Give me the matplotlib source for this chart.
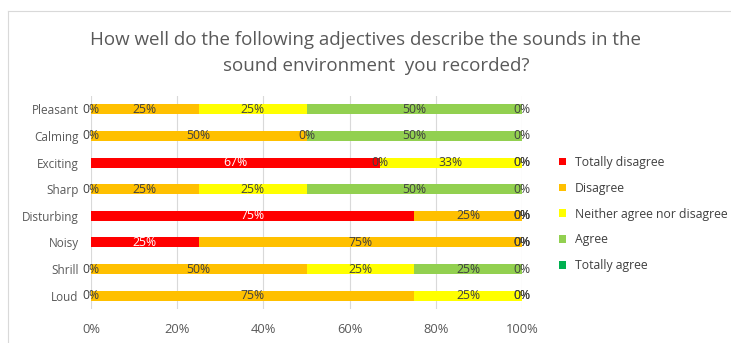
import matplotlib
matplotlib.use("Agg")
import matplotlib.pyplot as plt
from matplotlib.lines import Line2D
import numpy as np

plt.rcParams['font.family'] = ['Open Sans', 'DejaVu Sans']

categories = ["Pleasant", "Calming", "Exciting", "Sharp", "Disturbing", "Noisy", "Shrill", "Loud"]
series_names = ["Totally disagree", "Disagree", "Neither agree nor disagree", "Agree", "Totally agree"]
totally_disagree = [0, 0, 67, 0, 75, 25, 0, 0]
disagree = [25, 50, 0, 25, 25, 75, 50, 75]
neither = [25, 0, 33, 25, 0, 0, 25, 25]
agree = [50, 50, 0, 50, 0, 0, 25, 0]
totally_agree = [0, 0, 0, 0, 0, 0, 0, 0]
# which rows show a label for the first series (Excel hides some)
show_td_zero = [True, True, False, True, False, False, True, True]
xticks = [0, 20, 40, 60, 80, 100]
xtick_labels = ["0%", "20%", "40%", "60%", "80%", "100%"]

colors = ["#FF0000", "#FFC000", "#FFFF00", "#92D050", "#00B050"]
label_colors = ["white", "#404040", "#404040", "#404040", "#404040"]

fig = plt.figure(figsize=(7.31, 3.43), dpi=100)
ax = fig.add_axes([91/731, 1 - 309/343, (522-91)/731, (309-96)/343])

data = [totally_disagree, disagree, neither, agree, totally_agree]
y = np.arange(len(categories))
left = np.zeros(len(categories))
for i, (vals, name) in enumerate(zip(data, series_names)):
    vals = np.array(vals, dtype=float)
    ax.barh(y, vals, left=left, height=0.38, color=colors[i], label=name, zorder=2)
    for j, v in enumerate(vals):
        if i == 0 and v == 0 and not show_td_zero[j]:
            continue
        cx = left[j] + v / 2
        col = label_colors[i] if v > 0 else "#404040"
        ax.text(cx, y[j], f"{int(v)}%", ha="center", va="center", fontsize=8.8,
                color=col, zorder=3)
    left += vals

ax.set_xlim(0, 100)
ax.set_ylim(len(categories) - 0.5, -0.5)
ax.set_yticks(y)
ax.set_yticklabels(categories, fontsize=8.5, color="#595959")
ax.set_xticks(xticks)
ax.set_xticklabels(xtick_labels, fontsize=9.3, color="#595959")
ax.tick_params(axis="both", length=0)
ax.tick_params(axis="y", pad=9)
ax.tick_params(axis="x", pad=10)
ax.grid(axis="x", color="#D9D9D9", linewidth=0.8, zorder=0)
for s in ax.spines.values():
    s.set_visible(False)

fig.text(366/731, 1 - 40/343, "How well do the following adjectives describe the sounds in the",
         ha="center", va="center", fontsize=13.5, color="#595959")
fig.text(376/731, 1 - 66/343, "sound environment  you recorded?",
         ha="center", va="center", fontsize=13.5, color="#595959")

handles, labels = ax.get_legend_handles_labels()
leg = fig.legend(handles, labels, loc="upper left", bbox_to_anchor=(554/731, 1 - 151/343),
                 frameon=False, fontsize=8.8, handlelength=0.6, handleheight=0.6,
                 handletextpad=0.7, labelspacing=1.05, labelcolor="#404040",
                 borderaxespad=0)

fig.add_artist(Line2D([8/731, 8/731], [0, 1 - 11/343], transform=fig.transFigure,
                      color="#D9D9D9", linewidth=0.8))
fig.add_artist(Line2D([8/731, 1], [1 - 11/343, 1 - 11/343], transform=fig.transFigure,
                      color="#D9D9D9", linewidth=0.8))

fig.savefig("out.png", dpi=100)
